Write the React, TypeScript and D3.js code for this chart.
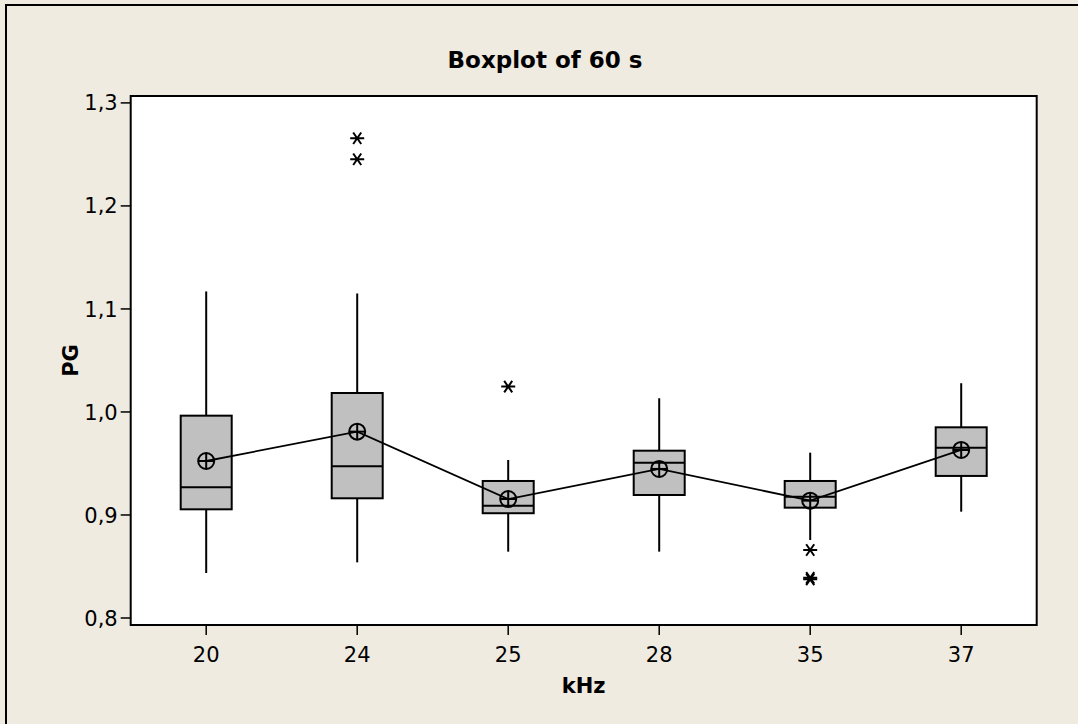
import React from "react";
import * as d3 from "d3";

const categories = ["20", "24", "25", "28", "35", "37"];
const q1 = [0.9055, 0.9162, 0.9017, 0.9194, 0.9071, 0.9379];
const medians = [0.927, 0.9473, 0.909, 0.9508, 0.9178, 0.9653];
const q3 = [0.9964, 1.0184, 0.933, 0.9624, 0.933, 0.9851];
const whiskerLow = [0.8437, 0.854, 0.8644, 0.8644, 0.8757, 0.9032];
const whiskerHigh = [1.117, 1.115, 0.9534, 1.0133, 0.9605, 1.0279];
const means = [0.9524, 0.9809, 0.9155, 0.9447, 0.9139, 0.9631];
const outliers: [string, number][] = [
  ["24", 1.2657],
  ["24", 1.2453],
  ["25", 1.0246],
  ["35", 0.866],
  ["35", 0.839],
  ["35", 0.8375],
];
const yTicks = [0.8, 0.9, 1.0, 1.1, 1.2, 1.3];

const W = 1078;
const H = 724;
const plot = { left: 130.7, right: 1036.7, top: 96, bottom: 625 };
const FONT = "'DejaVu Sans', Verdana, sans-serif";

export default function App() {
  const x = d3
    .scaleBand<string>()
    .domain(categories)
    .range([plot.left, plot.right])
    .padding(0);
  const y = d3
    .scaleLinear()
    .domain([0.8 - 7 / 1030, 1.3 + 6.9 / 1030])
    .range([plot.bottom, plot.top]);
  const cx = (c: string) => (x(c) as number) + x.bandwidth() / 2;
  const boxW = 51;
  const fmt = (v: number) => d3.format(".1f")(v).replace(".", ",");
  const meanLine = d3
    .line<number>()
    .x((_, i) => cx(categories[i]))
    .y((d) => y(d));

  const star = (px: number, py: number, r: number) => {
    const a = (Math.PI / 180) * 55;
    return `M${px - r},${py}L${px + r},${py}M${px - r * Math.cos(a)},${py - r * Math.sin(a)}L${px + r * Math.cos(a)},${py + r * Math.sin(a)}M${px - r * Math.cos(a)},${py + r * Math.sin(a)}L${px + r * Math.cos(a)},${py - r * Math.sin(a)}`;
  };

  return (
    <svg
      width={W}
      height={H}
      style={{ position: "absolute", left: 0, top: 0 }}
    >
      <rect x={0} y={0} width={W} height={H} fill="#EFEBE1" />
      <rect
        x={6}
        y={5}
        width={W + 20}
        height={H + 20}
        fill="none"
        stroke="#000"
        strokeWidth={2}
      />
      <rect
        x={plot.left}
        y={plot.top}
        width={plot.right - plot.left}
        height={plot.bottom - plot.top}
        fill="#fff"
        stroke="#000"
        strokeWidth={2}
      />
      <text
        x={545}
        y={68}
        textAnchor="middle"
        fontFamily={FONT}
        fontWeight="bold"
        fontSize={23}
      >
        Boxplot of 60 s
      </text>
      {/* y axis */}
      {yTicks.map((t) => (
        <g key={t}>
          <line
            x1={plot.left - 10}
            x2={plot.left}
            y1={y(t)}
            y2={y(t)}
            stroke="#000"
            strokeWidth={1.5}
          />
          <text
            x={plot.left - 13}
            y={y(t)}
            dy="0.36em"
            textAnchor="end"
            fontFamily={FONT}
            fontSize={21}
          >
            {fmt(t)}
          </text>
        </g>
      ))}
      {/* x axis */}
      {categories.map((c) => (
        <g key={c}>
          <line
            x1={cx(c)}
            x2={cx(c)}
            y1={plot.bottom}
            y2={plot.bottom + 10}
            stroke="#000"
            strokeWidth={1.5}
          />
          <text
            x={cx(c)}
            y={662}
            textAnchor="middle"
            fontFamily={FONT}
            fontSize={21}
          >
            {c}
          </text>
        </g>
      ))}
      <text
        x={(plot.left + plot.right) / 2}
        y={693}
        textAnchor="middle"
        fontFamily={FONT}
        fontWeight="bold"
        fontSize={21}
      >
        kHz
      </text>
      <text
        transform={`translate(78,${(plot.top + plot.bottom) / 2}) rotate(-90)`}
        textAnchor="middle"
        fontFamily={FONT}
        fontWeight="bold"
        fontSize={21}
      >
        PG
      </text>
      {/* boxes */}
      {categories.map((c, i) => {
        const px = cx(c);
        return (
          <g key={c}>
            <line
              x1={px}
              x2={px}
              y1={y(q3[i])}
              y2={y(whiskerHigh[i])}
              stroke="#000"
              strokeWidth={2}
            />
            <line
              x1={px}
              x2={px}
              y1={y(q1[i])}
              y2={y(whiskerLow[i])}
              stroke="#000"
              strokeWidth={2}
            />
            <rect
              x={px - boxW / 2}
              y={y(q3[i])}
              width={boxW}
              height={y(q1[i]) - y(q3[i])}
              fill="#C0C0C0"
              stroke="#000"
              strokeWidth={2}
            />
            <line
              x1={px - boxW / 2}
              x2={px + boxW / 2}
              y1={y(medians[i])}
              y2={y(medians[i])}
              stroke="#000"
              strokeWidth={2}
            />
          </g>
        );
      })}
      <path
        d={meanLine(means) || ""}
        fill="none"
        stroke="#000"
        strokeWidth={1.8}
      />
      {categories.map((c, i) => {
        const px = cx(c);
        const py = y(means[i]);
        const r = 8;
        return (
          <g key={"m" + c} stroke="#000" strokeWidth={2} fill="none">
            <circle cx={px} cy={py} r={r} />
            <line x1={px - r} x2={px + r} y1={py} y2={py} />
            <line x1={px} x2={px} y1={py - r} y2={py + r} />
          </g>
        );
      })}
      {outliers.map(([c, v], i) => (
        <path
          key={"o" + i}
          d={star(cx(c), y(v), 7)}
          stroke="#000"
          strokeWidth={2}
          fill="none"
        />
      ))}
    </svg>
  );
}
